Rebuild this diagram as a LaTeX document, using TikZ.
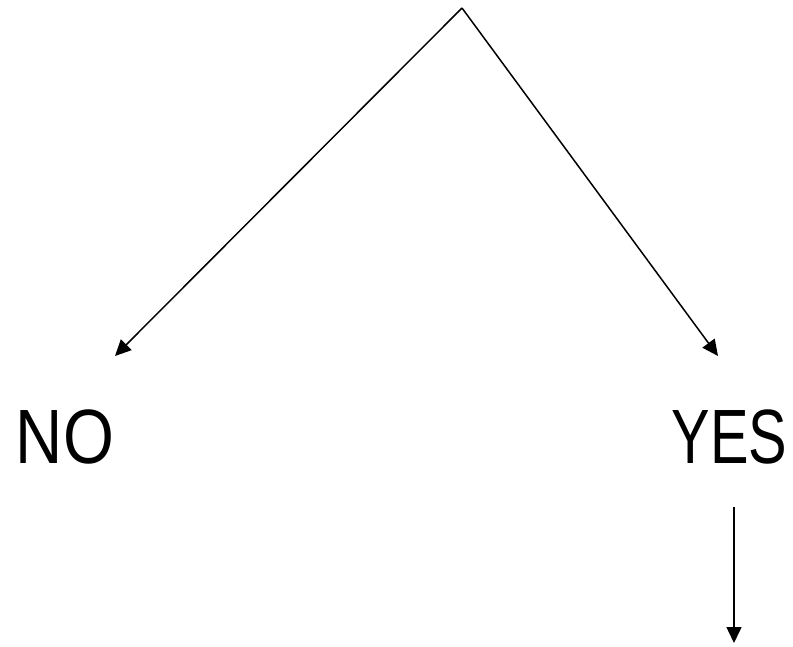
\documentclass[tikz,border=0pt]{standalone}
\usepackage{fontspec}
\setmainfont{Liberation Sans}
\usetikzlibrary{arrows.meta,positioning}

\begin{document}
\begin{tikzpicture}[
  x=1pt, y=-1pt,
  answer/.style={inner sep=0pt, font=\fontsize{77}{80}\selectfont},
  >={Triangle[length=16pt, width=15pt]},
  line width=1.5pt,
]
\useasboundingbox (0,0) rectangle (793,646);
\coordinate (top) at (462,8);
\coordinate (noend) at (115,356);
\coordinate (yesend) at (718,356);
\node[answer, anchor=base west] (no) at (15,463) {\scalebox{0.85}[1]{NO}};
\node[answer, anchor=base east] (yes) at (788,463) {\scalebox{0.75}[1]{YES}};
\coordinate (downstart) at (734,507);
\coordinate (downend) at (734,643);
\draw[->] (top) -- (noend);
\draw[->] (top) -- (yesend);
\draw[->] (downstart) -- (downend);
\end{tikzpicture}
\end{document}
